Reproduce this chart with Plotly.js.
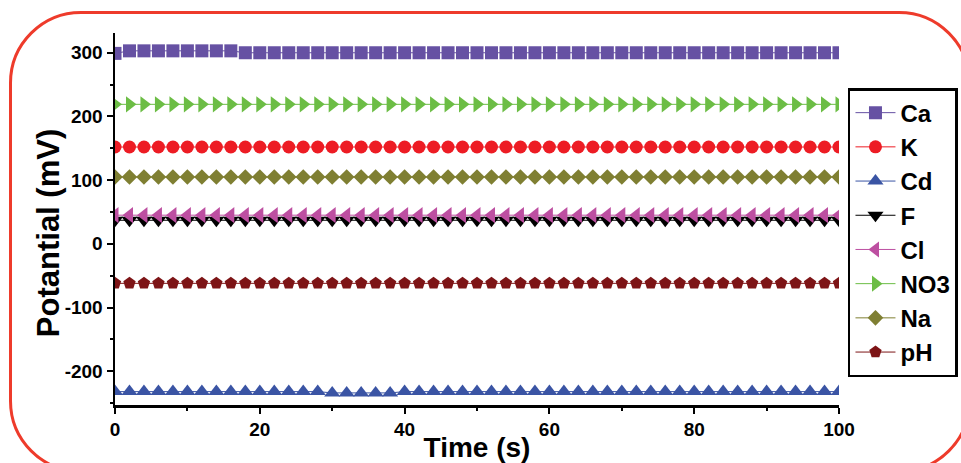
<!DOCTYPE html>
<html>
<head>
<meta charset="utf-8">
<script src="https://cdn.plot.ly/plotly-3.0.1.min.js"></script>
<style>
  html, body { margin: 0; padding: 0; background: #ffffff; overflow: hidden; }
  #wrap { position: relative; width: 961px; height: 463px; overflow: hidden; }
  #frame { position: absolute; left: 9px; top: 11px; width: 962px; height: 462px;
           border: 3px solid #ee3b2b; border-radius: 72px; box-sizing: border-box; pointer-events: none; }
  #chart { position: absolute; left: 0; top: 0; width: 961px; height: 463px; }
</style>
</head>
<body>
<div id="wrap">
  <div id="frame"></div>
  <div id="chart"></div>
</div>
<script>
const time = [0,2,4,6,8,10,12,14,16,18,20,22,24,26,28,30,32,34,36,38,40,42,44,46,48,50,
              52,54,56,58,60,62,64,66,68,70,72,74,76,78,80,82,84,86,88,90,92,94,96,98,100];

const caValues  = [299,303,303,303,303,303,303,303,303,300,300,300,300,300,300,300,300,300,300,300,300,300,300,300,300,300,
                   300,300,300,300,300,300,300,300,300,300,300,300,300,300,300,300,300,300,300,300,300,300,300,300,300];
const kValues   = [152,152,152,152,152,152,152,152,152,152,152,152,152,152,152,152,152,152,152,152,152,152,152,152,152,152,
                   152,152,152,152,152,152,152,152,152,152,152,152,152,152,152,152,152,152,152,152,152,152,152,152,152];
const cdValues  = [-232,-232,-232,-232,-232,-232,-232,-232,-232,-232,-232,-232,-232,-232,-232,-234,-234,-234,-234,-234,-232,-232,-232,-232,-232,-232,
                   -232,-232,-232,-232,-232,-232,-232,-232,-232,-232,-232,-232,-232,-232,-232,-232,-232,-232,-232,-232,-232,-232,-232,-232,-232];
const fValues   = [37,37,37,37,37,37,37,37,37,37,37,37,37,37,37,37,37,37,37,37,37,37,37,37,37,37,
                   37,37,37,37,37,37,37,37,37,37,37,37,37,37,37,37,37,37,37,37,37,37,37,37,37];
const clValues  = [45,45,45,45,45,45,45,45,45,45,45,45,45,45,45,45,45,45,45,45,45,45,45,45,45,45,
                   45,45,45,45,45,45,45,45,45,45,45,45,45,45,45,45,45,45,45,45,45,45,45,45,45];
const no3Values = [219,219,219,219,219,219,219,219,219,219,219,219,219,219,219,219,219,219,219,219,219,219,219,219,219,219,
                   219,219,219,219,219,219,219,219,219,219,219,219,219,219,219,219,219,219,219,219,219,219,219,219,219];
const naValues  = [105,105,105,105,105,105,105,105,105,105,105,105,105,105,105,105,105,105,105,105,105,105,105,105,105,105,
                   105,105,105,105,105,105,105,105,105,105,105,105,105,105,105,105,105,105,105,105,105,105,105,105,105];
const phValues  = [-62,-62,-62,-62,-62,-62,-62,-62,-62,-62,-62,-62,-62,-62,-62,-62,-62,-62,-62,-62,-62,-62,-62,-62,-62,-62,
                   -62,-62,-62,-62,-62,-62,-62,-62,-62,-62,-62,-62,-62,-62,-62,-62,-62,-62,-62,-62,-62,-62,-62,-62,-62];

const seriesNames = ['Ca','K','Cd','F','Cl','NO3','Na','pH'];
const seriesData = [caValues,kValues,cdValues,fValues,clValues,no3Values,naValues,phValues];
const colors  = ['#6651a3','#ed1c24','#3a54a4','#000000','#bd4fa1','#6cbd45','#7f7f32','#7d1416'];
const symbols = ['square','circle','triangle-up','triangle-down','triangle-left','triangle-right','diamond','pentagon'];
const sizes   = [13,13,14,14,14,14,12,13];

const traces = seriesNames.map((name, i) => ({
  type: 'scatter',
  mode: 'lines+markers',
  name: name,
  x: time,
  y: seriesData[i],
  line: { color: colors[i], width: 1 },
  marker: { color: colors[i], symbol: symbols[i], size: sizes[i], line: { width: 0 } },
  cliponaxis: true
}));

const fontFam = '"Liberation Sans", Arial, sans-serif';

const layout = {
  width: 961, height: 463,
  margin: { l: 115, r: 122, t: 33, b: 58, pad: 0, autoexpand: false },
  paper_bgcolor: 'rgba(0,0,0,0)',
  plot_bgcolor: 'rgba(0,0,0,0)',
  font: { family: fontFam, color: '#000' },
  showlegend: true,
  xaxis: {
    range: [0, 100],
    tickmode: 'array', tickvals: [0,20,40,60,80,100], ticktext: ['0','20','40','60','80','100'],
    ticks: 'outside', ticklen: 6, tickwidth: 2, tickcolor: '#000',
    minor: { dtick: 10, ticks: 'outside', ticklen: 3, tickwidth: 2, tickcolor: '#000' },
    showline: true, linecolor: '#000', linewidth: 2.5,
    showgrid: false, zeroline: false,
    tickfont: { family: fontFam, size: 19, color: '#000', weight: 'bold' },
    title: { text: '<b>Time (s)</b>', font: { family: fontFam, size: 28, color: '#000' }, standoff: 0 }
  },
  yaxis: {
    range: [-253, 331],
    tickmode: 'array', tickvals: [-200,-100,0,100,200,300], ticktext: ['-200','-100','0','100','200','300'],
    ticks: 'outside', ticklen: 6, tickwidth: 2, tickcolor: '#000',
    minor: { dtick: 50, ticks: 'outside', ticklen: 3, tickwidth: 2, tickcolor: '#000' },
    showline: true, linecolor: '#000', linewidth: 2.5,
    showgrid: false, zeroline: false,
    tickfont: { family: fontFam, size: 19, color: '#000', weight: 'bold' }
  },
  annotations: [{
    text: '<b>Potantial (mV)</b>', textangle: -90,
    xref: 'paper', yref: 'paper', x: -0.0925, y: 0.462,
    xanchor: 'center', yanchor: 'middle', showarrow: false,
    font: { family: fontFam, size: 31, color: '#000' }
  }],
  legend: {
    x: 1.0124, xanchor: 'left', y: 0.852, yanchor: 'top',
    bgcolor: '#ffffff', bordercolor: '#000', borderwidth: 2.5,
    font: { family: fontFam, size: 24, color: '#000', weight: 'bold' },
    itemwidth: 40, tracegroupgap: 0
  }
};

Plotly.newPlot('chart', traces, layout, { displayModeBar: false, staticPlot: true });
</script>
</body>
</html>
